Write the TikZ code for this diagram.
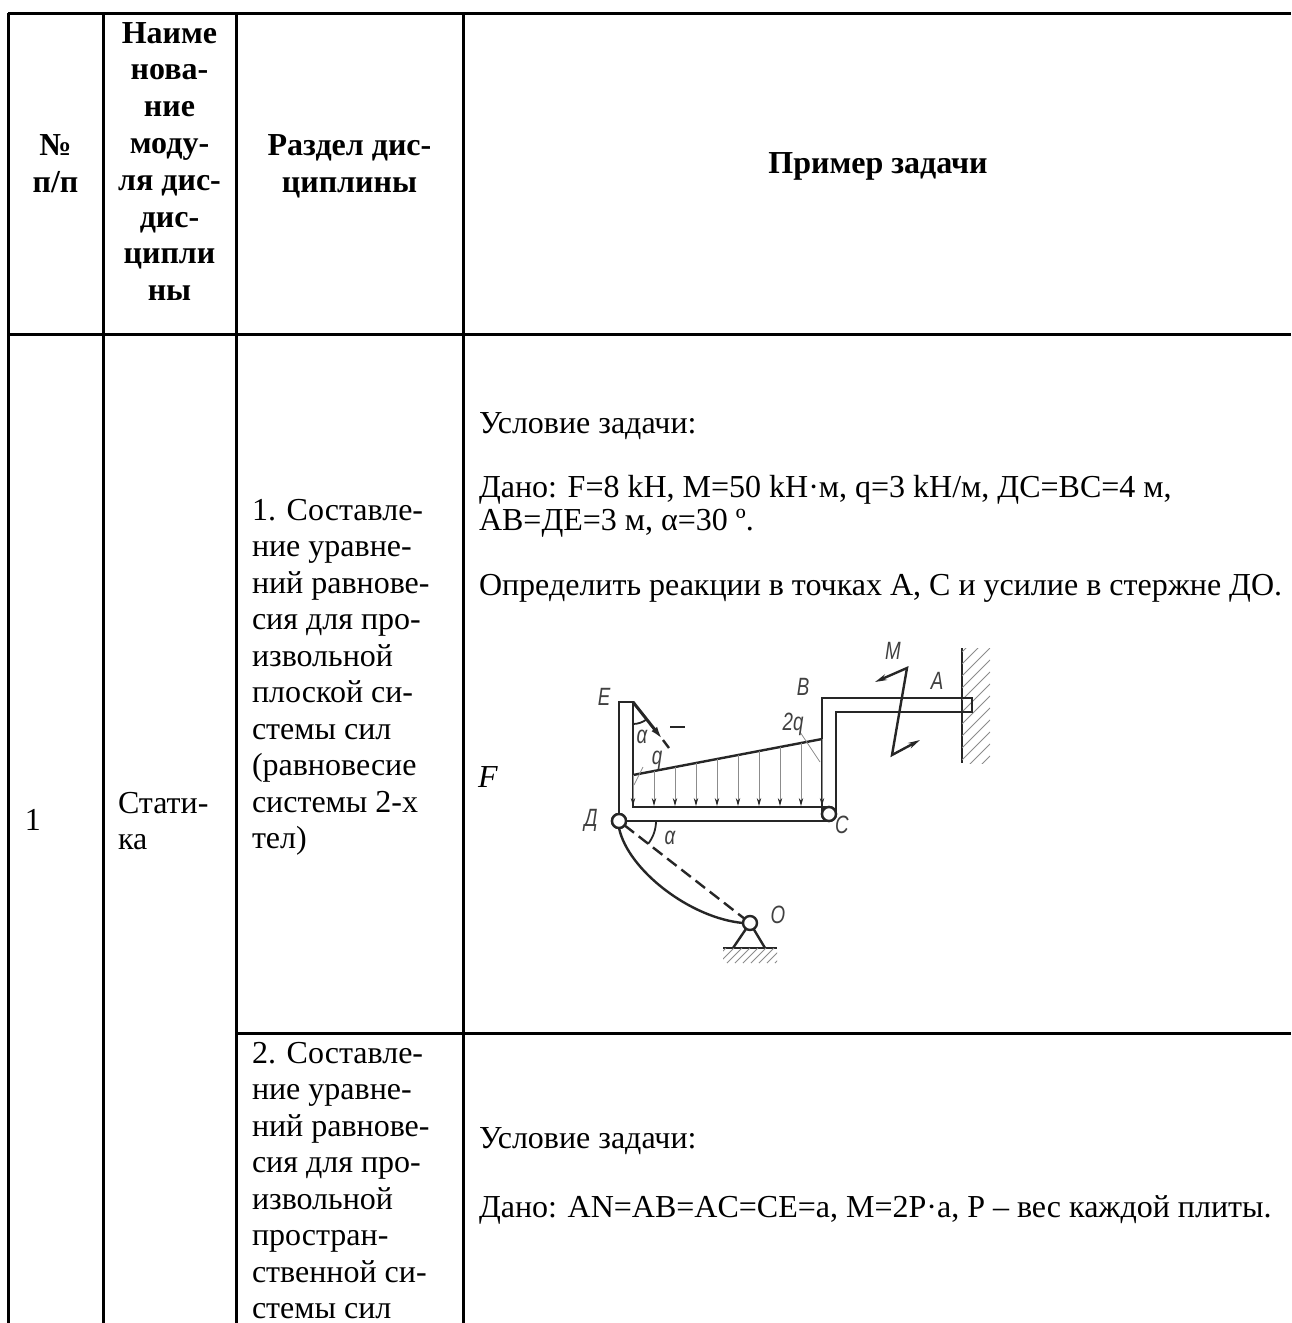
\documentclass[tikz,border=0pt]{standalone}
\usepackage{fontspec}
\setmainfont{Liberation Serif}
\newfontfamily\gostfont{Liberation Sans}[FakeStretch=0.75]
\usetikzlibrary{arrows.meta}

\begin{document}
\begin{tikzpicture}[x=0.5pt,y=-0.5pt]
\tikzset{every node/.style={inner sep=0pt, outer sep=0pt}}
\tikzset{grid line/.style={line width=1.5pt, black}}
\tikzset{cell text/.style={anchor=base west, font=\fontsize{16}{18}\selectfont}}
\tikzset{head text/.style={anchor=base, font=\fontsize{16}{18}\selectfont\bfseries}}
\tikzset{bar/.style={line width=1.2pt, black!85}}
\tikzset{thin gray/.style={line width=0.4pt, black!45}}
\tikzset{lbl/.style={font=\gostfont\itshape\fontsize{12.5}{12.5}\selectfont, text=black!75}}
\tikzset{hinge/.style={circle, draw=black!85, fill=white, line width=1.2pt, minimum size=7pt}}
\tikzset{load arrow/.style={thin gray, -{Stealth[length=4pt,width=2.2pt,color=black!85]}}}
%\tikzset{every path/.style={draw=red}}

\useasboundingbox (0,0) rectangle (1291,1323);
\fill[white] (0,0) rectangle (1291,1323);

% table grid
\draw[grid line] (8,13) -- (1291,13);
\draw[grid line] (8,334) -- (1291,334);
\draw[grid line] (236,1033) -- (1291,1033);
\foreach \x in {8,103,236,463} \draw[grid line] (\x,13) -- (\x,1323);

% header
\node[head text] (numH) at (55.5,155) {№};
\node[head text] (numH2) at (55.5,192) {п/п};
\foreach \t [count=\i from 0] in {Наиме, нова-, ние, моду-, ля дис-, дис-, ципли, ны}
  \node[head text] (modH\i) at (169.5, 43+36.8*\i) {\t};
\node[head text] (secH) at (349.5,155) {Раздел дис-};
\node[head text] (secH2) at (349.5,192) {циплины};
\node[head text] (exH) at (878,173) {Пример задачи};

% row 1
\node[cell text] (num1) at (25,830) {1};
\node[cell text] (mod1) at (118,813) {Стати-};
\node[cell text] (mod1b) at (118,849.5) {ка};
\foreach \t [count=\i from 0] in {1. Составле-, ние уравне-, ний равнове-, сия для про-, извольной, плоской си-, стемы сил, {(равновесие}, системы 2-х, {тел)}}
  \node[cell text] (secA\i) at (252, 520+36.5*\i) {\t};
\node[cell text] (condA) at (479,433) {Условие задачи:};
\node[cell text] (givenA) at (479,497) {Дано: F=8 kH, M=50 kH·м, q=3 kH/м, ДС=ВС=4 м,};
\node[cell text] (givenA2) at (479,530) {АВ=ДЕ=3 м, α=30 º.};
\node[cell text] (taskA) at (479,595) {Определить реакции в точках А, С и усилие в стержне ДО.};
\node[anchor=base west, font=\fontsize{16}{16}\selectfont\itshape] (lblF) at (478,787) {F};

% row 2
\foreach \t [count=\i from 0] in {2. Составле-, ние уравне-, ний равнове-, сия для про-, извольной, простран-, ственной си-, стемы сил}
  \node[cell text] (secB\i) at (252, 1063+36.5*\i) {\t};
\node[cell text] (condB) at (479,1148) {Условие задачи:};
\node[cell text] (givenB) at (479,1217) {Дано: AN=AB=AC=CE=a, M=2P·a, P – вес каждой плиты.};

% sketch
\node[hinge] (D) at (619,821) {};
\node[hinge] (C) at (829,814) {};
\node[hinge] (O) at (750,923) {};
\draw[bar, line width=1.4pt] (962,648) -- (962,763);
\begin{scope}
\clip (962,648) rectangle (990,763);
\foreach \yy in {640,652,...,800} \draw[thin gray] (962,\yy) -- (990,\yy-28);
\end{scope}
\draw[bar] (619,814) -- (619,702) -- (633,702) -- (633,807) -- (829,807);
\draw[bar] (626,821) -- (829,821);
\draw[bar] (822,814) -- (822,698) -- (972,698) -- (972,712) -- (836,712) -- (836,814);
\node[hinge] at (D) {};
\node[hinge] at (C) {};
\draw[bar] (633,775) -- (822,739);
\foreach \k in {0,...,9}
  \draw[load arrow] ({633+21*\k},{775-4*\k}) -- ({633+21*\k},806);
\coordinate (Ftop) at (633,702);
\coordinate (Ftip) at (663,740);
\coordinate (Fend) at (669,748);
\draw[bar, line width=1.5pt, -{Latex[length=7pt,width=3.5pt]}] (Ftop) -- (Ftip);
\draw[bar] (Ftip) -- (Fend);
\draw[bar] (670,727) -- (685,727);
\draw[bar, line width=0.9pt] (633,724) arc[start angle=90, end angle=52, radius=22];
\draw[bar, line width=0.9pt] (656,821) arc[start angle=0, end angle=38, radius=37];
\draw[bar, dash pattern=on 6pt off 3pt] (D) -- (O);
\draw[bar] (D.south) .. controls (628,870) and (690,918) .. (O.west);
\draw[bar] (733,948) -- (O);
\draw[bar] (765,948) -- (O);
\draw[bar] (723,948) -- (777,948);
\begin{scope}
\clip (723,948) rectangle (777,963);
\foreach \xx in {711,719,...,780} \draw[thin gray] (\xx,963) -- (\xx+15,948);
\end{scope}
\coordinate (M1) at (875,682);
\coordinate (M2) at (907,668);
\coordinate (M3) at (892,755);
\coordinate (M4) at (920,740);
\draw[bar, {Stealth[length=6pt,width=3pt]}-{Stealth[length=6pt,width=3pt]}] (M1) -- (M2) -- (M3) -- (M4);
\draw[thin gray] (800,732) -- (820,762);
\draw[thin gray] (643,767) -- (634,785);

\node[lbl] (lblE) at (604,697) {E};
\node[lbl] (lblD) at (591,820) {Д};
\node[lbl] (lblC) at (842,825) {C};
\node[lbl] (lblO) at (778,915) {O};
\node[lbl] (lblB) at (803,687) {B};
\node[lbl] (lblA) at (937,681) {A};
\node[lbl] (lblM) at (893,651) {M};
\node[lbl] (lblqq) at (793,724) {2q};
\node[lbl] (lblq) at (657,760) {q};
\node[lbl] (lblal) at (642,737) {α};
\node[lbl] (lblal2) at (670,838) {α};
\end{tikzpicture}
\end{document}
